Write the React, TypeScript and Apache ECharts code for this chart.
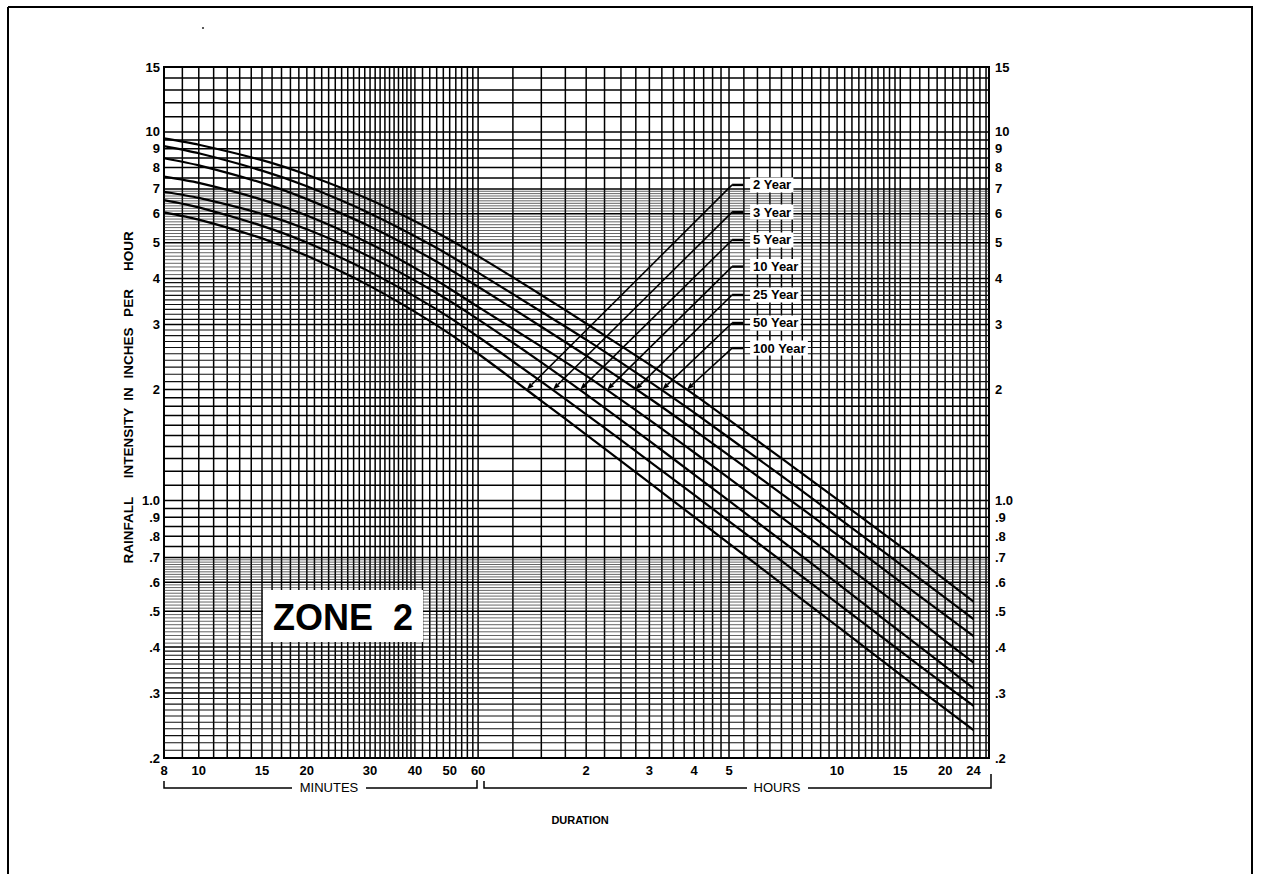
import React, { useEffect, useRef } from "react";
import * as echarts from "echarts";

const FONT = '"Liberation Sans", Arial, Helvetica, sans-serif';

// Duration in minutes
const durations = [8, 10, 15, 20, 30, 45, 60, 90, 120, 180, 240, 360, 480, 720, 1080, 1440];
// Rainfall intensity, inches per hour
const year2 = [6.05, 5.78, 5.14, 4.61, 3.815, 3.027, 2.5, 1.863, 1.508, 1.117, 0.902, 0.667, 0.538, 0.398, 0.294, 0.238];
const year3 = [6.53, 6.24, 5.56, 5.01, 4.17, 3.34, 2.78, 2.1, 1.713, 1.277, 1.035, 0.768, 0.621, 0.46, 0.341, 0.277];
const year5 = [6.88, 6.62, 5.99, 5.44, 4.58, 3.7, 3.1, 2.37, 1.94, 1.45, 1.175, 0.872, 0.705, 0.52, 0.384, 0.309];
const year10 = [7.56, 7.27, 6.55, 5.93, 4.97, 4.0, 3.35, 2.615, 2.18, 1.654, 1.349, 1.007, 0.817, 0.607, 0.45, 0.363];
const year25 = [8.48, 8.11, 7.27, 6.57, 5.54, 4.5, 3.8, 2.96, 2.47, 1.893, 1.552, 1.164, 0.948, 0.708, 0.527, 0.4285];
const year50 = [9.15, 8.75, 7.85, 7.12, 6.01, 4.9, 4.15, 3.25, 2.73, 2.1, 1.73, 1.3, 1.06, 0.79, 0.588, 0.476];
const year100 = [9.6, 9.23, 8.38, 7.65, 6.54, 5.39, 4.6, 3.61, 3.02, 2.34, 1.936, 1.452, 1.182, 0.883, 0.658, 0.531];

const seriesNames = ["2 Year", "3 Year", "5 Year", "10 Year", "25 Year", "50 Year", "100 Year"];
const seriesValues = [year2, year3, year5, year10, year25, year50, year100];

// Leader arrows (tip on curve near 2.0 in/hr) and label anchors
const arrowTipMinutes = [82, 97, 115.5, 137.4, 164.5, 195.6, 229];
const arrowTipValues = [2.0, 2.0, 2.0, 2.0, 2.0, 2.0, 2.0];
const labelAnchorMinutes = 306;
const labelAnchorValues = [7.18, 6.06, 5.09, 4.31, 3.61, 3.03, 2.59];

// Tick labels
const xTickMinutes = [8, 10, 15, 20, 30, 40, 50, 60, 120, 180, 240, 300, 600, 900, 1200, 1440];
const xTickLabels = ["8", "10", "15", "20", "30", "40", "50", "60", "2", "3", "4", "5", "10", "15", "20", "24"];
const yTickValues = [15, 10, 9, 8, 7, 6, 5, 4, 3, 2, 1, 0.9, 0.8, 0.7, 0.6, 0.5, 0.4, 0.3, 0.2];
const yTickLabels = ["15", "10", "9", "8", "7", "6", "5", "4", "3", "2", "1.0", ".9", ".8", ".7", ".6", ".5", ".4", ".3", ".2"];

const X_MIN = 8;
const X_MAX = 1590;
const Y_MIN = 0.2;
const Y_MAX = 15;

function steps(a: number, b: number, s: number): number[] {
  const out: number[] = [];
  const n = Math.round((b - a) / s);
  for (let k = 0; k <= n; k++) out.push(+(a + k * s).toFixed(4));
  return out;
}

// Grid rulings of the log paper
const vLines = [
  ...steps(8, 40, 1),
  ...steps(42, 60, 2),
  ...steps(75, 300, 15),
  ...steps(330, 600, 30),
  ...steps(630, 900, 30),
  ...steps(960, 1560, 60),
];
const hMain = [
  ...steps(0.2, 0.7, 0.1),
  ...steps(0.75, 1.0, 0.05),
  ...steps(1.1, 2.0, 0.1),
  3, 4, 5, 6, 7,
  ...steps(7.5, 10, 0.5),
  ...steps(11, 15, 1),
];
const hMid = [...steps(0.21, 0.39, 0.01), ...steps(2.1, 3.9, 0.1)].filter(
  (v) => !hMain.some((m) => Math.abs(m - v) < 1e-6)
);
const hFine = [...steps(0.41, 0.69, 0.01), ...steps(4.1, 6.9, 0.1)].filter(
  (v) => !hMain.some((m) => Math.abs(m - v) < 1e-6)
);

function vLineSeries(data: number[], width: number) {
  return {
    type: "custom",
    silent: true,
    z: 1,
    data: data.map((m) => [m, Y_MIN]),
    renderItem: (params: any, api: any) => {
      const m = api.value(0);
      const a = api.coord([m, Y_MIN]);
      const b = api.coord([m, Y_MAX]);
      return {
        type: "line",
        shape: { x1: a[0], y1: a[1], x2: b[0], y2: b[1] },
        style: { stroke: "#000", lineWidth: width },
      };
    },
  };
}

function hLineSeries(data: number[], width: number, color: string) {
  return {
    type: "custom",
    silent: true,
    z: 1,
    data: data.map((v) => [X_MIN, v]),
    renderItem: (params: any, api: any) => {
      const v = api.value(1);
      const a = api.coord([X_MIN, v]);
      const b = api.coord([X_MAX, v]);
      return {
        type: "line",
        shape: { x1: a[0], y1: a[1], x2: b[0], y2: b[1] },
        style: { stroke: color, lineWidth: width },
      };
    },
  };
}

const tickFont = `bold 13px ${FONT}`;

const option: any = {
  animation: false,
  backgroundColor: "#fff",
  grid: {
    left: 164,
    top: 67,
    width: 825,
    height: 691,
    show: true,
    borderColor: "#000",
    borderWidth: 2,
    backgroundColor: "rgba(0,0,0,0)",
  },
  xAxis: {
    type: "log",
    logBase: 10,
    min: X_MIN,
    max: X_MAX,
    axisLine: { show: false },
    axisTick: { show: false },
    axisLabel: { show: false },
    splitLine: { show: false },
  },
  yAxis: {
    type: "log",
    logBase: 10,
    min: Y_MIN,
    max: Y_MAX,
    axisLine: { show: false },
    axisTick: { show: false },
    axisLabel: { show: false },
    splitLine: { show: false },
  },
  series: [
    vLineSeries(vLines, 1.5),
    hLineSeries(hMain, 1.5, "#000"),
    hLineSeries(hMid, 1.1, "#111"),
    hLineSeries(hFine, 0.7, "#222"),
    ...seriesValues.map((vals, i) => ({
      name: seriesNames[i],
      type: "line",
      z: 3,
      silent: true,
      smooth: 0.25,
      showSymbol: false,
      symbol: "none",
      lineStyle: { color: "#000", width: 2.2 },
      data: durations.map((d, k) => [d, vals[k]]),
    })),
    {
      type: "custom",
      silent: true,
      clip: false,
      z: 5,
      data: arrowTipMinutes.map((m, i) => [m, arrowTipValues[i]]),
      renderItem: (params: any, api: any) => {
        const i = params.dataIndex;
        const tip = api.coord([api.value(0), api.value(1)]);
        const anc = api.coord([labelAnchorMinutes, labelAnchorValues[i]]);
        const dx = tip[0] - anc[0];
        const dy = tip[1] - anc[1];
        const len = Math.hypot(dx, dy);
        const ux = dx / len;
        const uy = dy / len;
        const ah = 7;
        const aw = 2.6;
        const bx = tip[0] - ux * ah;
        const by = tip[1] - uy * ah;
        return {
          type: "group",
          children: [
            {
              type: "polyline",
              shape: { points: [[bx, by], [anc[0], anc[1]]] },
              style: { stroke: "#000", lineWidth: 1.6, fill: null },
            },
            {
              type: "line",
              shape: { x1: anc[0], y1: anc[1], x2: anc[0] + 11, y2: anc[1] },
              style: { stroke: "#000", lineWidth: 2.4 },
            },
            {
              type: "polygon",
              shape: {
                points: [
                  [tip[0], tip[1]],
                  [bx - uy * aw, by + ux * aw],
                  [bx + uy * aw, by - ux * aw],
                ],
              },
              style: { fill: "#000" },
            },
            {
              type: "text",
              x: anc[0] + 18,
              y: anc[1],
              style: {
                text: seriesNames[i],
                font: `bold 13px ${FONT}`,
                fill: "#000",
                align: "left",
                verticalAlign: "middle",
                backgroundColor: "#fff",
                padding: [1, 2, 1, 3],
              },
            },
          ],
        };
      },
    },
    {
      type: "custom",
      silent: true,
      clip: false,
      z: 6,
      data: yTickValues.map((v) => [X_MIN, v]),
      renderItem: (params: any, api: any) => {
        const v = api.value(1);
        const l = api.coord([X_MIN, v]);
        const r = api.coord([X_MAX, v]);
        const t = yTickLabels[params.dataIndex];
        return {
          type: "group",
          children: [
            {
              type: "text",
              x: l[0] - 4,
              y: l[1],
              style: { text: t, font: tickFont, fill: "#000", align: "right", verticalAlign: "middle" },
            },
            {
              type: "text",
              x: r[0] + 6,
              y: r[1],
              style: { text: t, font: tickFont, fill: "#000", align: "left", verticalAlign: "middle" },
            },
          ],
        };
      },
    },
    {
      type: "custom",
      silent: true,
      clip: false,
      z: 6,
      data: xTickMinutes.map((m) => [m, Y_MIN]),
      renderItem: (params: any, api: any) => {
        const p = api.coord([api.value(0), Y_MIN]);
        return {
          type: "text",
          x: p[0],
          y: p[1] + 12,
          style: {
            text: xTickLabels[params.dataIndex],
            font: tickFont,
            fill: "#000",
            align: "center",
            verticalAlign: "middle",
          },
        };
      },
    },
  ],
  graphic: [
    // page frame
    { type: "line", z: 100, shape: { x1: 8, y1: 7, x2: 1253, y2: 7 }, style: { stroke: "#000", lineWidth: 2 } },
    { type: "line", z: 100, shape: { x1: 8, y1: 7, x2: 8, y2: 874 }, style: { stroke: "#000", lineWidth: 2 } },
    { type: "line", z: 100, shape: { x1: 1252, y1: 7, x2: 1252, y2: 874 }, style: { stroke: "#000", lineWidth: 2 } },
    { type: "circle", z: 100, shape: { cx: 203, cy: 28, r: 1.1 }, style: { fill: "#444" } },
    // y axis title (word by word)
    ...[
      ["RAINFALL", 530],
      ["INTENSITY", 443],
      ["IN", 394],
      ["INCHES", 353],
      ["PER", 303],
      ["HOUR", 251],
    ].map(([w, y]) => ({
      type: "text",
      z: 100,
      x: 128,
      y: y as number,
      rotation: Math.PI / 2,
      style: {
        text: w as string,
        font: `bold 13.5px ${FONT}`,
        fill: "#000",
        align: "center",
        verticalAlign: "middle",
      },
    })),
    // ZONE label
    { type: "rect", z: 100, shape: { x: 263, y: 590, width: 160, height: 52 }, style: { fill: "#fff" } },
    {
      type: "text",
      z: 101,
      x: 343,
      y: 617,
      style: { text: "ZONE  2", font: `bold 36px ${FONT}`, fill: "#000", align: "center", verticalAlign: "middle" },
    },
    // MINUTES bracket
    {
      type: "polyline",
      z: 100,
      shape: { points: [[164, 781], [164, 788], [292, 788]] },
      style: { stroke: "#000", lineWidth: 1.5, fill: null },
    },
    {
      type: "polyline",
      z: 100,
      shape: { points: [[366, 788], [477, 788], [477, 780]] },
      style: { stroke: "#000", lineWidth: 1.5, fill: null },
    },
    {
      type: "text",
      z: 100,
      x: 329,
      y: 787,
      style: { text: "MINUTES", font: `13px ${FONT}`, fill: "#000", align: "center", verticalAlign: "middle" },
    },
    // HOURS bracket
    {
      type: "polyline",
      z: 100,
      shape: { points: [[484, 781], [484, 788], [747, 788]] },
      style: { stroke: "#000", lineWidth: 1.5, fill: null },
    },
    {
      type: "polyline",
      z: 100,
      shape: { points: [[808, 788], [991, 788], [991, 774]] },
      style: { stroke: "#000", lineWidth: 1.5, fill: null },
    },
    {
      type: "text",
      z: 100,
      x: 777,
      y: 787,
      style: { text: "HOURS", font: `13px ${FONT}`, fill: "#000", align: "center", verticalAlign: "middle" },
    },
    {
      type: "text",
      z: 100,
      x: 580,
      y: 820,
      style: { text: "DURATION", font: `bold 11px ${FONT}`, fill: "#000", align: "center", verticalAlign: "middle" },
    },
  ],
};

export default function App() {
  const ref = useRef<HTMLDivElement>(null);
  useEffect(() => {
    if (!ref.current) return;
    const chart = echarts.init(ref.current, null, { renderer: "svg" });
    chart.setOption(option);
    return () => chart.dispose();
  }, []);
  return (
    <div
      ref={ref}
      style={{ position: "fixed", left: 0, top: 0, width: 1261, height: 874, background: "#fff" }}
    />
  );
}
